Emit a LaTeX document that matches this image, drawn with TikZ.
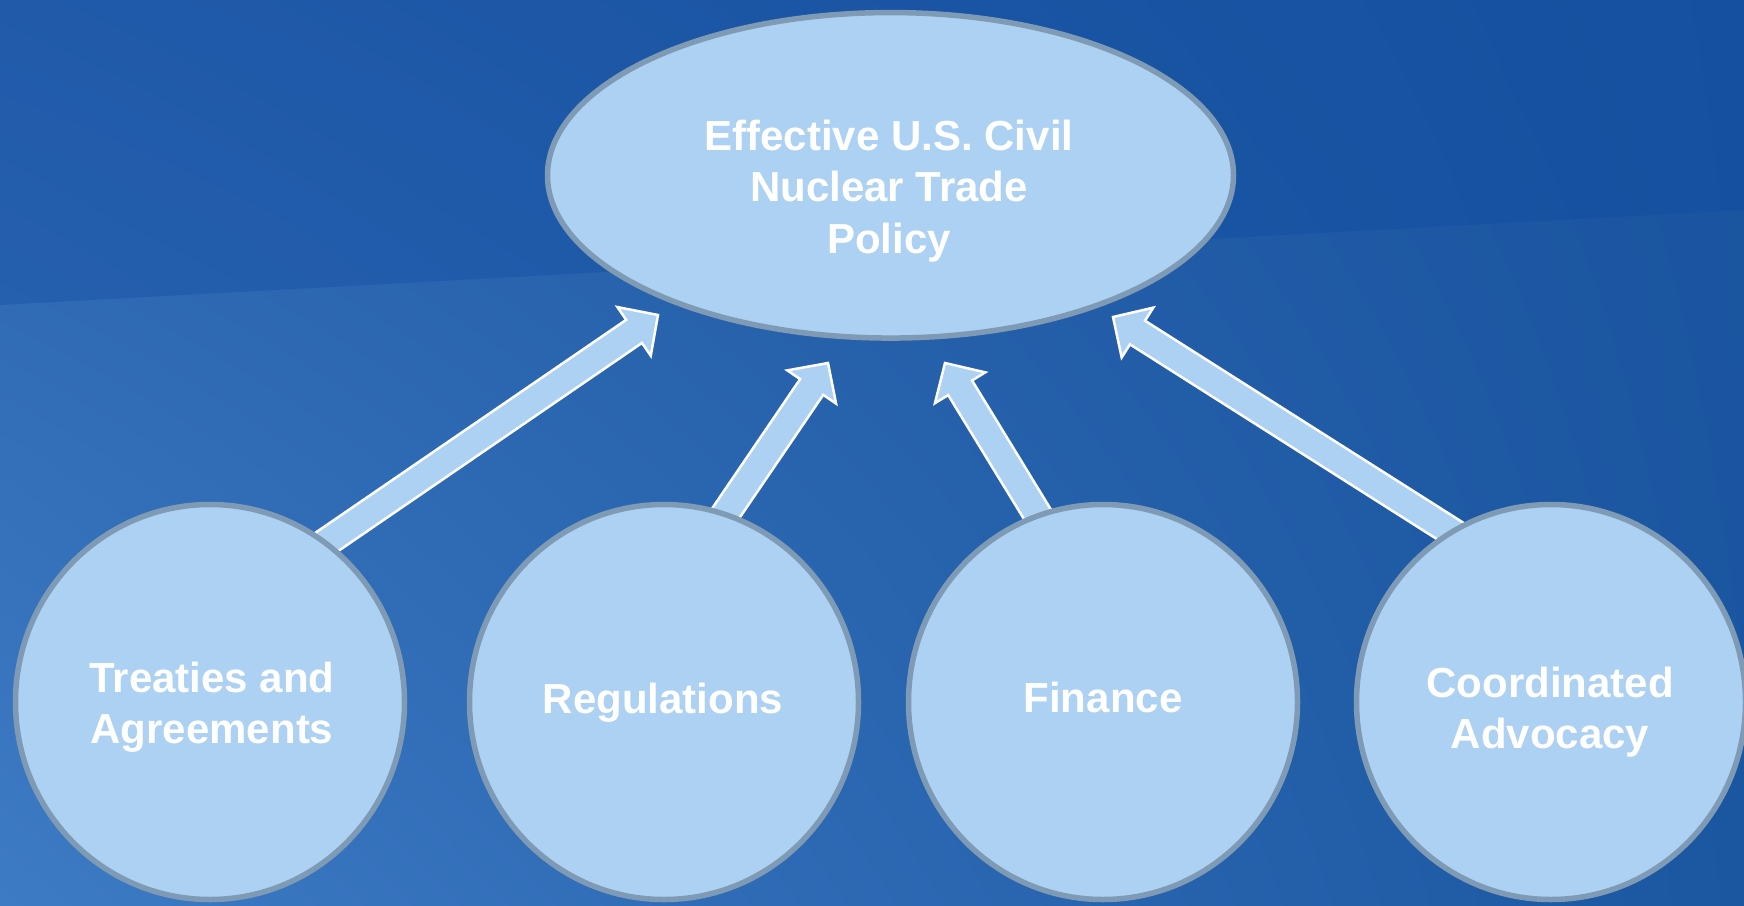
\documentclass[tikz,border=0pt]{standalone}
\usepackage{fontspec}
\setmainfont{Liberation Sans}
\usetikzlibrary{calc,shapes.geometric,shadings}
\definecolor{bgUL}{HTML}{2A63AE}
\definecolor{bgUR}{HTML}{1A54A0}
\definecolor{bgLL}{HTML}{3E7BC5}
\definecolor{bgLR}{HTML}{1B56A1}
\definecolor{bgtop}{HTML}{0B47A0}
\definecolor{shapefill}{HTML}{ADD1F2}
\definecolor{shapeedge}{HTML}{7F9AB4}
\newcommand{\drawblockarrow}[2]{%
  \coordinate (#2-base) at ($(#2)!29pt!(#1)$);
  \draw[arrowbody] ($(#1)!14pt!90:(#2)$) -- ($(#2-base)!14pt!90:(#2)$)
    -- ($(#2-base)!29.5pt!90:(#2)$) -- (#2) -- ($(#2-base)!29.5pt!-90:(#2)$)
    -- ($(#2-base)!14pt!-90:(#2)$) -- ($(#1)!14pt!-90:(#2)$) -- cycle;}
\begin{document}
\begin{tikzpicture}[x=1pt,y=-1pt,
  bubble/.style={ellipse, fill=shapefill, draw=shapeedge, line width=5.5pt,
    minimum width=389pt, minimum height=395pt, inner sep=0pt},
  goal/.style={ellipse, fill=shapefill, draw=shapeedge, line width=5.5pt,
    minimum width=686pt, minimum height=325.5pt, inner sep=0pt},
  txt/.style={text=white, font=\bfseries\fontsize{42}{51.5}\selectfont,
    align=center, inner sep=0pt},
  arrowbody/.style={fill=shapefill, draw=white, line width=2.5pt, line join=miter}]
\useasboundingbox (0,0) rectangle (1744,905);
% background
\shade[upper left=bgUL, upper right=bgUR, lower left=bgLL, lower right=bgLR]
  (0,0) rectangle (1744,905);
\fill[bgtop, opacity=0.3] (0,0) -- (1744,0) -- (1744,210) -- (0,305) -- cycle;
% arrow end points
\coordinate (t1) at (296,563);   \coordinate (h1) at (658,315);
\coordinate (t2) at (705.5,543); \coordinate (h2) at (828,363);
\coordinate (t3) at (1056.8,546);\coordinate (h3) at (945,363);
\coordinate (t4) at (1480.8,550.4); \coordinate (h4) at (1113,317);
\drawblockarrow{t1}{h1}
\drawblockarrow{t2}{h2}
\drawblockarrow{t3}{h3}
\drawblockarrow{t4}{h4}
% shapes
\node[goal] (policy) at (890.5,175.3) {};
\node[bubble] (treaties) at (210,702) {};
\node[bubble] (regs) at (664,702) {};
\node[bubble] (finance) at (1103,702) {};
\node[bubble] (advocacy) at (1551,702) {};
% texts
\node[txt] (policytxt) at (889,191) {Effective U.S. Civil\\Nuclear Trade\\Policy};
\node[txt] (treatiestxt) at (212,707) {Treaties and\\Agreements};
\node[txt] (regstxt) at (663,702.5) {Regulations};
\node[txt] (financetxt) at (1103,697.5) {Finance};
\node[txt] (advocacytxt) at (1550,712) {Coordinated\\Advocacy};
\end{tikzpicture}
\end{document}
